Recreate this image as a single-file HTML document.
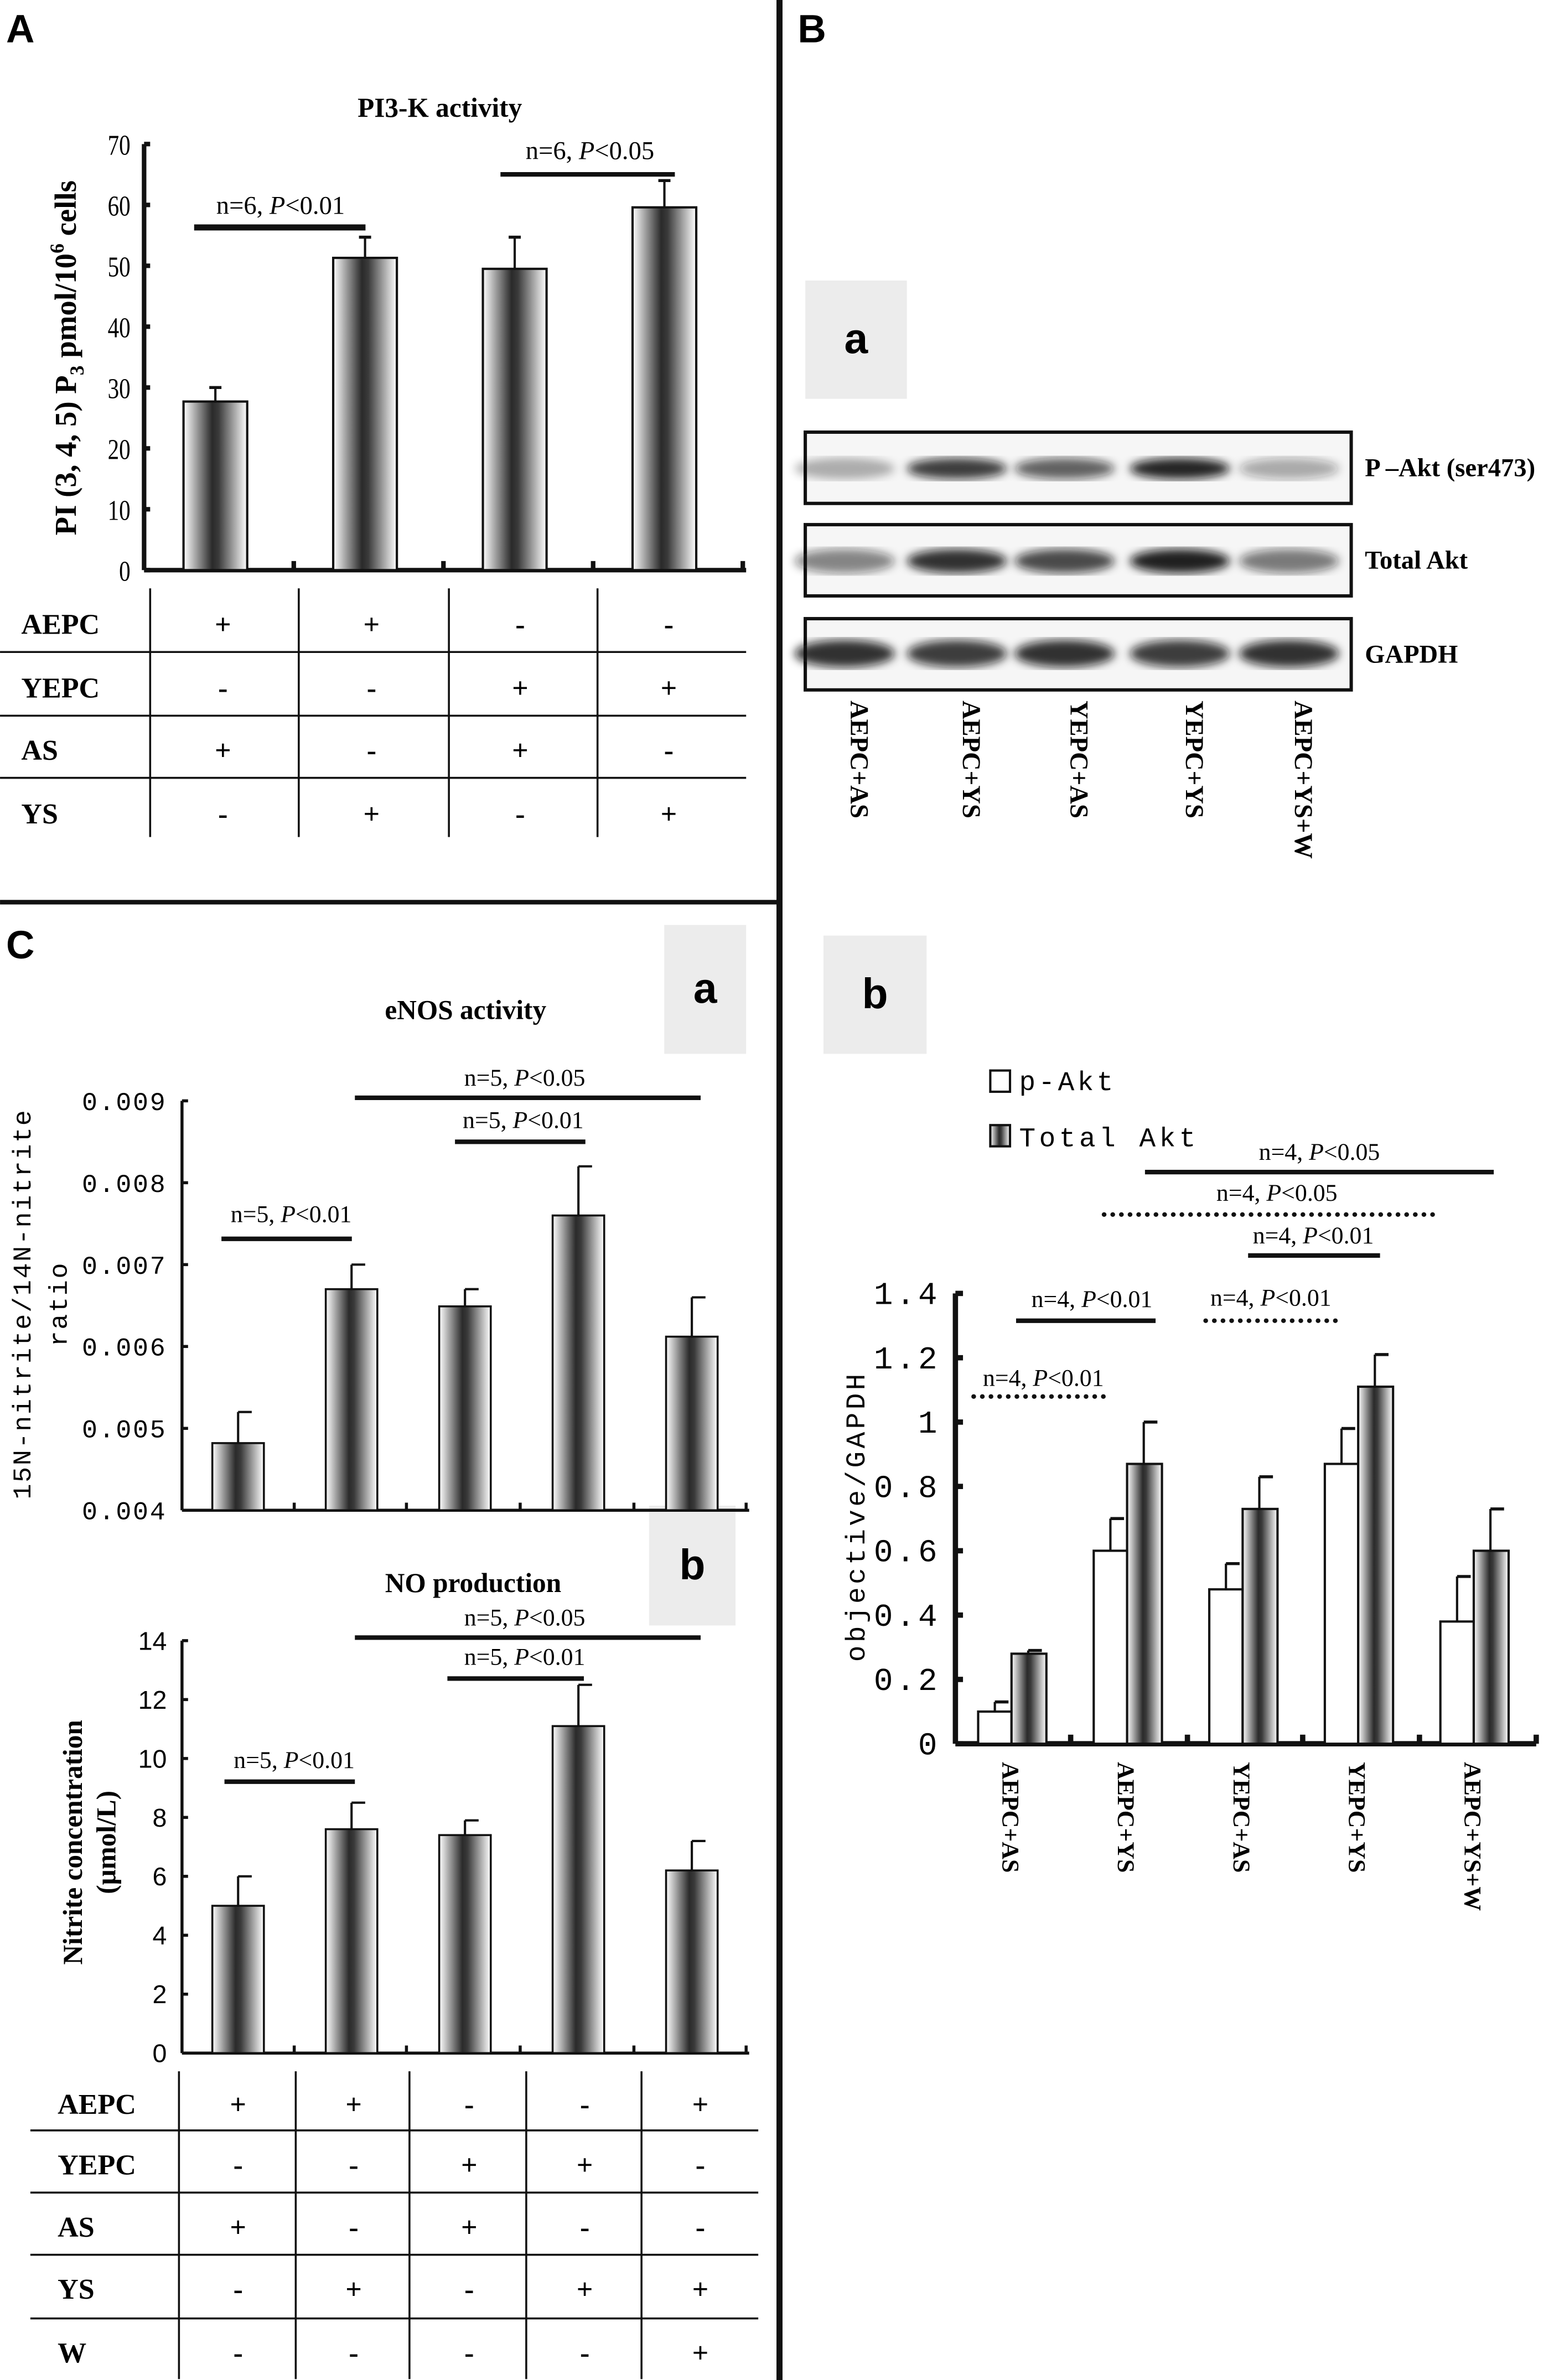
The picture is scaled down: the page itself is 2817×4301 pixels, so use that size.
<!DOCTYPE html>
<html><head><meta charset="utf-8">
<style>
html,body{margin:0;padding:0;background:#fff;}
svg{display:block;}
.ser{font-family:"Liberation Serif",serif;}
.mono{font-family:"Liberation Mono",monospace;}
</style></head>
<body>
<svg id="fig" xmlns="http://www.w3.org/2000/svg" width="2817" height="4301" viewBox="0 0 1028 1569.6">
<defs>
<linearGradient id="barg" x1="0" x2="1" y1="0" y2="0">
<stop offset="0" stop-color="#fff"/><stop offset="0.45" stop-color="#2a2a2a"/><stop offset="0.55" stop-color="#3a3a3a"/><stop offset="1" stop-color="#fff"/>
</linearGradient>
<filter id="blur3"><feGaussianBlur stdDeviation="3"/></filter>
</defs>
</svg>
<script>
// ---- Panel A data ----
const aCategories = ['AEPC+AS','AEPC+YS','YEPC+AS','YEPC+YS'];
const aValues = [27.7, 51.3, 49.5, 59.6];
const aErrors = [30.0, 54.7, 54.7, 64.0];
const aTicks = [0,10,20,30,40,50,60,70];
// ---- Panel B-b data ----
const bCategories = ['AEPC+AS','AEPC+YS','YEPC+AS','YEPC+YS','AEPC+YS+W'];
const bPAkt = [0.10, 0.60, 0.48, 0.87, 0.38];
const bPAktErr = [0.13, 0.70, 0.56, 0.98, 0.52];
const bTotal = [0.28, 0.87, 0.73, 1.11, 0.60];
const bTotalErr = [0.29, 1.00, 0.83, 1.21, 0.73];
const bTicks = ['0','0.2','0.4','0.6','0.8','1','1.2','1.4'];
const bBandP = [0.3, 0.8, 0.65, 0.9, 0.35];
const bBandT = [0.5, 0.85, 0.75, 0.92, 0.55];
const bBandG = [0.85, 0.8, 0.85, 0.8, 0.85];
// ---- Panel C data ----
const cCategories = ['AEPC+AS','AEPC+YS','YEPC+AS','YEPC+YS','AEPC+YS+W'];
const cEnos = [0.00482, 0.0067, 0.00649, 0.0076, 0.00612];
const cEnosErr = [0.0052, 0.0070, 0.0067, 0.0082, 0.0066];
const cEnosTicks = ['0.004','0.005','0.006','0.007','0.008','0.009'];
const cNo = [5.0, 7.6, 7.4, 11.1, 6.2];
const cNoErr = [6.0, 8.5, 7.9, 12.5, 7.2];
const cNoTicks = [0,2,4,6,8,10,12,14];

const svg = document.getElementById('fig');
const NS = 'http://www.w3.org/2000/svg';
function mk(tag, attrs, parent){
  const e = document.createElementNS(NS, tag);
  for (const k in attrs) e.setAttribute(k, attrs[k]);
  (parent||svg).appendChild(e);
  return e;
}
function txt(x,y,s,size,extra,parent){
  const e = mk('text', Object.assign({x:x,y:y,'font-size':size,'class':'ser'}, extra||{}), parent);
  e.textContent = s;
  return e;
}
function line(x1,y1,x2,y2,w,parent,dash){
  const a = {x1:x1,y1:y1,x2:x2,y2:y2,stroke:'#111','stroke-width':w};
  if (dash) { a['stroke-dasharray']=dash; a['stroke-linecap']='round'; }
  return mk('line', a, parent);
}
function annot(x1,x2,yl,tx,ty,p,size,dotted,parent){
  const g = mk('g',{},parent);
  
  
  if (yl > 0) line(x1,yl,x2,yl,3,g,dotted?'0.1 5.6':null);
  const t = mk('text',{x:tx,y:ty,'font-size':size,'class':'ser','text-anchor':'middle'},g);
  const s1 = mk('tspan',{},t); s1.textContent = p[0] + ', ';
  const s2 = mk('tspan',{'font-style':'italic'},t); s2.textContent = 'P';
  const s3 = mk('tspan',{},t); s3.textContent = p[1];
}

// ---- Dividers & panel letters ----
let d = line(514,0,514,1569.6,4);


d = line(0,595,514,595,3);


let L = txt(4,28,'A',26,{'font-family':'Liberation Sans, sans-serif','font-weight':'bold','class':''});


L = txt(526,28,'B',26,{'font-family':'Liberation Sans, sans-serif','font-weight':'bold','class':''});


L = txt(4,632,'C',26,{'font-family':'Liberation Sans, sans-serif','font-weight':'bold','class':''});



function subBox(x,y,w,h,letter,name){
  const g = mk('g',{});
  
  
  mk('rect',{x:x,y:y,width:w,height:h,fill:'#ececec'},g);
  txt(x+w/2,y+h/2+9,letter,28,{'text-anchor':'middle','font-family':'Liberation Sans, sans-serif','font-weight':'bold','class':''},g);
}
subBox(531,185,67,78,'a','subpanel-label-ba');
subBox(543,617,68,78,'b','subpanel-label-bb');
subBox(438,610,54,85,'a','subpanel-label-ca');
subBox(428,993,57,79,'b','subpanel-label-cb');

// ================= Panel A chart =================
(function(){
  const g = mk('g',{});
  
  
  const x0=95, y0=376, yTop=95, vmax=70;
  const ys = v => y0 - (v/vmax)*(y0-yTop);
  const xc = i => 142 + i*98.7;
  const t = txt(290,77,'PI3-K activity',18,{'text-anchor':'middle','font-weight':'bold'},g);
  
  
  line(x0,yTop,x0,y0,3,g);
  line(x0,y0,492,y0,3,g);
  aTicks.forEach(v=>{
    line(x0,ys(v),x0+4,ys(v),3,g);
    const tl = txt(x0-9,ys(v)+7,String(v),19,{'text-anchor':'end','textLength':String(v).length*7.5,'lengthAdjust':'spacingAndGlyphs'},g);
    
    
  });
  for (let i=1;i<=4;i++) line(x0+i*98.7,y0,x0+i*98.7,y0-6,3,g);
  const yt = mk('text',{x:0,y:0,'font-size':20,'font-weight':'bold','class':'ser','text-anchor':'middle',transform:'translate(50,236) rotate(-90)'},g);
  
  
  yt.innerHTML = 'PI (3, 4, 5) P<tspan font-size="13" dy="5">3</tspan><tspan dy="-5"> pmol/10</tspan><tspan font-size="13" dy="-8">6</tspan><tspan dy="8"> cells</tspan>';
  aValues.forEach((v,i)=>{
    const x = xc(i);
    line(x,ys(v),x,ys(aErrors[i]),1.5,g);
    line(x-4,ys(aErrors[i]),x+4,ys(aErrors[i]),2,g);
    const b = mk('rect',{x:x-21,y:ys(v),width:42,height:y0-ys(v),fill:'url(#barg)',stroke:'#111','stroke-width':1.5},g);
    
    
  });
  line(128,150,241,150,4,g);
  annot(0,0,-100,185,141,['n=6','<0.01'],17,false,g);
  line(330,115,445,115,3,g);
  annot(0,0,-100,389,105,['n=6','<0.05'],17,false,g);
})();

// table A
(function(){
  const g = mk('g',{});
  
  
  const rows = ['AEPC','YEPC','AS','YS'];
  const vals = [['+','+','-','-'],['-','-','+','+'],['+','-','+','-'],['-','+','-','+']];
  const rowY = [411,453,494,536];
  [430,472,513].forEach(y=>line(0,y,492,y,1.3,g));
  [99,197,296,394].forEach(x=>line(x,388,x,552,1.3,g));
  rows.forEach((r,i)=>{
    const t = txt(14,rowY[i]+7,r,19,{'font-weight':'bold'},g);
    
    
    vals[i].forEach((v,j)=>{
      const c = txt(147+j*98,rowY[i]+7,v,19,{'text-anchor':'middle','font-weight':'bold'},g);
      
      
    });
  });
})();

// ================= Panel B-a blots =================
(function(){
  const g = mk('g',{});
  
  
  const lanes = [557,631,702,778,850];
  const boxes = [[285,'P –Akt (ser473)',bBandP,309,14],[346,'Total Akt',bBandT,370,16],[408,'GAPDH',bBandG,431,18]];
  boxes.forEach(([y,lab,arr,by,bh])=>{
    mk('rect',{x:531,y:y,width:360,height:47,fill:'#f6f6f6',stroke:'#111','stroke-width':2.2},g);
    arr.forEach((a,i)=>{
      const e = mk('ellipse',{cx:lanes[i],cy:by,rx:33,ry:bh/2,fill:'#111','fill-opacity':a,filter:'url(#blur3)'},g);
      
      
    });
    const t = txt(900,y+29,lab,17,{'font-weight':'bold'},g);
    
    
  });
  bCategories.forEach((c,i)=>{
    const t = mk('text',{x:0,y:0,'font-size':17,'font-weight':'bold','class':'ser',transform:'translate('+(lanes[i]+4)+',462) rotate(90)'},g);
    t.textContent = c;
    
    
  });
})();

// ================= Panel B-b chart =================
(function(){
  const g = mk('g',{});
  
  
  const x0=630, y0=1150, yTop=853, vmax=1.4;
  const ys = v => y0 - (v/vmax)*(y0-yTop);
  line(x0,yTop,x0,y0,3.5,g);
  line(x0,y0,1013,y0,3.5,g);
  bTicks.forEach(s=>{
    const v = parseFloat(s);
    line(x0,ys(v),x0+5,ys(v),3.5,g);
    const t = txt(620,ys(v)+7,s,21,{'text-anchor':'end','class':'mono','letter-spacing':'2'},g);
    
    
  });
  [706,783,859,936,1013].forEach(x=>line(x,y0,x,y0-6,3.5,g));
  const yt = mk('text',{x:0,y:0,'font-size':18,'class':'mono','text-anchor':'middle','letter-spacing':'2',transform:'translate(570,1000) rotate(-90)'},g);
  yt.textContent = 'objective/GAPDH';
  
  
  bCategories.forEach((c,i)=>{
    const xw = 645 + i*76.2, xg = xw+22;
    line(xw+11,ys(bPAkt[i]),xw+11,ys(bPAktErr[i]),1.5,g);
    line(xw+11,ys(bPAktErr[i]),xw+20,ys(bPAktErr[i]),2,g);
    line(xg+11,ys(bTotal[i]),xg+11,ys(bTotalErr[i]),1.5,g);
    line(xg+11,ys(bTotalErr[i]),xg+20,ys(bTotalErr[i]),2,g);
    const b1 = mk('rect',{x:xw,y:ys(bPAkt[i]),width:22,height:y0-ys(bPAkt[i]),fill:'#fff',stroke:'#111','stroke-width':1.5},g);
    
    
    const b2 = mk('rect',{x:xg,y:ys(bTotal[i]),width:23,height:y0-ys(bTotal[i]),fill:'url(#barg)',stroke:'#111','stroke-width':1.5},g);
    
    
    const t = mk('text',{x:0,y:0,'font-size':16,'font-weight':'bold','class':'ser',transform:'translate('+(xg-6)+',1162) rotate(90)'},g);
    t.textContent = c;
    
    
  });
  const lg = mk('g',{},g);
  
  
  mk('rect',{x:653,y:706,width:13,height:14,fill:'#fff',stroke:'#111','stroke-width':1.5},lg);
  let t = txt(672,719,'p-Akt',18,{'class':'mono','letter-spacing':'2'},lg);
  
  
  mk('rect',{x:653,y:742,width:13,height:14,fill:'url(#barg)',stroke:'#111','stroke-width':1.5},lg);
  t = txt(672,756,'Total Akt',18,{'class':'mono','letter-spacing':'2.4'},lg);
  
  
  annot(755,985,773,870,765,['n=4','<0.05'],16,false,g);
  annot(728,950,801,842,792,['n=4','<0.05'],16,true,g);
  annot(823,910,828,866,820,['n=4','<0.01'],16,false,g);
  annot(670,762,871,720,862,['n=4','<0.01'],16,false,g);
  annot(795,883,871,838,861,['n=4','<0.01'],16,true,g);
  annot(642,733,921,688,914,['n=4','<0.01'],16,true,g);
})();

// ================= Panel C-a eNOS =================
(function(){
  const g = mk('g',{});
  
  
  const x0=120, y0=996, yTop=726, vmin=0.004, vmax=0.009;
  const ys = v => y0 - ((v-vmin)/(vmax-vmin))*(y0-yTop);
  const xc = i => 157 + i*74.8;
  const ti = txt(307,672,'eNOS activity',18,{'text-anchor':'middle','font-weight':'bold'},g);
  
  
  line(x0,yTop,x0,y0,2,g);
  line(x0,y0,494,y0,2,g);
  cEnosTicks.forEach(s=>{
    const v = parseFloat(s);
    line(x0,ys(v),x0+4,ys(v),2,g);
    const t = txt(110,ys(v)+6,s,17,{'text-anchor':'end','class':'mono','letter-spacing':'1'},g);
    
    
  });
  [194,268,343,418,492].forEach(x=>line(x,y0,x,y0-5,2,g));
  const yt = mk('text',{x:0,y:0,'font-size':17,'class':'mono','text-anchor':'middle','letter-spacing':'1',transform:'translate(20,860) rotate(-90)'},g);
  yt.innerHTML = '15N-nitrite/14N-nitrite<tspan x="0" dy="24">ratio</tspan>';
  
  
  cEnos.forEach((v,i)=>{
    const x = xc(i);
    line(x,ys(v),x,ys(cEnosErr[i]),1.5,g);
    line(x,ys(cEnosErr[i]),x+9,ys(cEnosErr[i]),1.5,g);
    const b = mk('rect',{x:x-17,y:ys(v),width:34,height:y0-ys(v),fill:'url(#barg)',stroke:'#111','stroke-width':1.3},g);
    
    
  });
  annot(146,232,817,192,806,['n=5','<0.01'],16,false,g);
  annot(300,386,753,345,744,['n=5','<0.01'],16,false,g);
  annot(234,462,724,346,716,['n=5','<0.05'],16,false,g);
})();

// ================= Panel C-b NO =================
(function(){
  const g = mk('g',{});
  
  
  const x0=120, y0=1354, yTop=1082, vmax=14;
  const ys = v => y0 - (v/vmax)*(y0-yTop);
  const xc = i => 157 + i*74.8;
  const ti = txt(312,1050,'NO production',18,{'text-anchor':'middle','font-weight':'bold'},g);
  
  
  line(x0,yTop,x0,y0,2,g);
  line(x0,y0,494,y0,2,g);
  cNoTicks.forEach(v=>{
    line(x0,ys(v),x0+4,ys(v),2,g);
    const t = txt(110,ys(v)+6,String(v),17,{'text-anchor':'end','font-family':'Liberation Sans, sans-serif','class':''},g);
    
    
  });
  [194,268,343,418,492].forEach(x=>line(x,y0,x,y0-5,2,g));
  const yt = mk('text',{x:0,y:0,'font-size':18,'font-weight':'bold','class':'ser','text-anchor':'middle',transform:'translate(54,1215) rotate(-90)'},g);
  yt.innerHTML = 'Nitrite concentration<tspan x="0" dy="22">(μmol/L)</tspan>';
  
  
  cNo.forEach((v,i)=>{
    const x = xc(i);
    line(x,ys(v),x,ys(cNoErr[i]),1.5,g);
    line(x,ys(cNoErr[i]),x+9,ys(cNoErr[i]),1.5,g);
    const b = mk('rect',{x:x-17,y:ys(v),width:34,height:y0-ys(v),fill:'url(#barg)',stroke:'#111','stroke-width':1.3},g);
    
    
  });
  annot(148,234,1175,194,1166,['n=5','<0.01'],16,false,g);
  annot(295,385,1107,346,1098,['n=5','<0.01'],16,false,g);
  annot(234,462,1080,346,1072,['n=5','<0.05'],16,false,g);
})();

// table C
(function(){
  const g = mk('g',{});
  
  
  const rows = ['AEPC','YEPC','AS','YS','W'];
  const vals = [['+','+','-','-','+'],['-','-','+','+','-'],['+','-','+','-','-'],['-','+','-','+','+'],['-','-','-','-','+']];
  const rowY = [1387,1427,1468,1509,1551];
  [1405,1446,1487,1529].forEach(y=>line(20,y,500,y,1.3,g));
  [118,195,270,347,423].forEach(x=>line(x,1366,x,1569,1.3,g));
  rows.forEach((r,i)=>{
    const t = txt(38,rowY[i]+7,r,19,{'font-weight':'bold'},g);
    
    
    vals[i].forEach((v,j)=>{
      const c = txt(157+j*76.2,rowY[i]+7,v,19,{'text-anchor':'middle','font-weight':'bold'},g);
      
      
    });
  });
})();
</script>
</body></html>
